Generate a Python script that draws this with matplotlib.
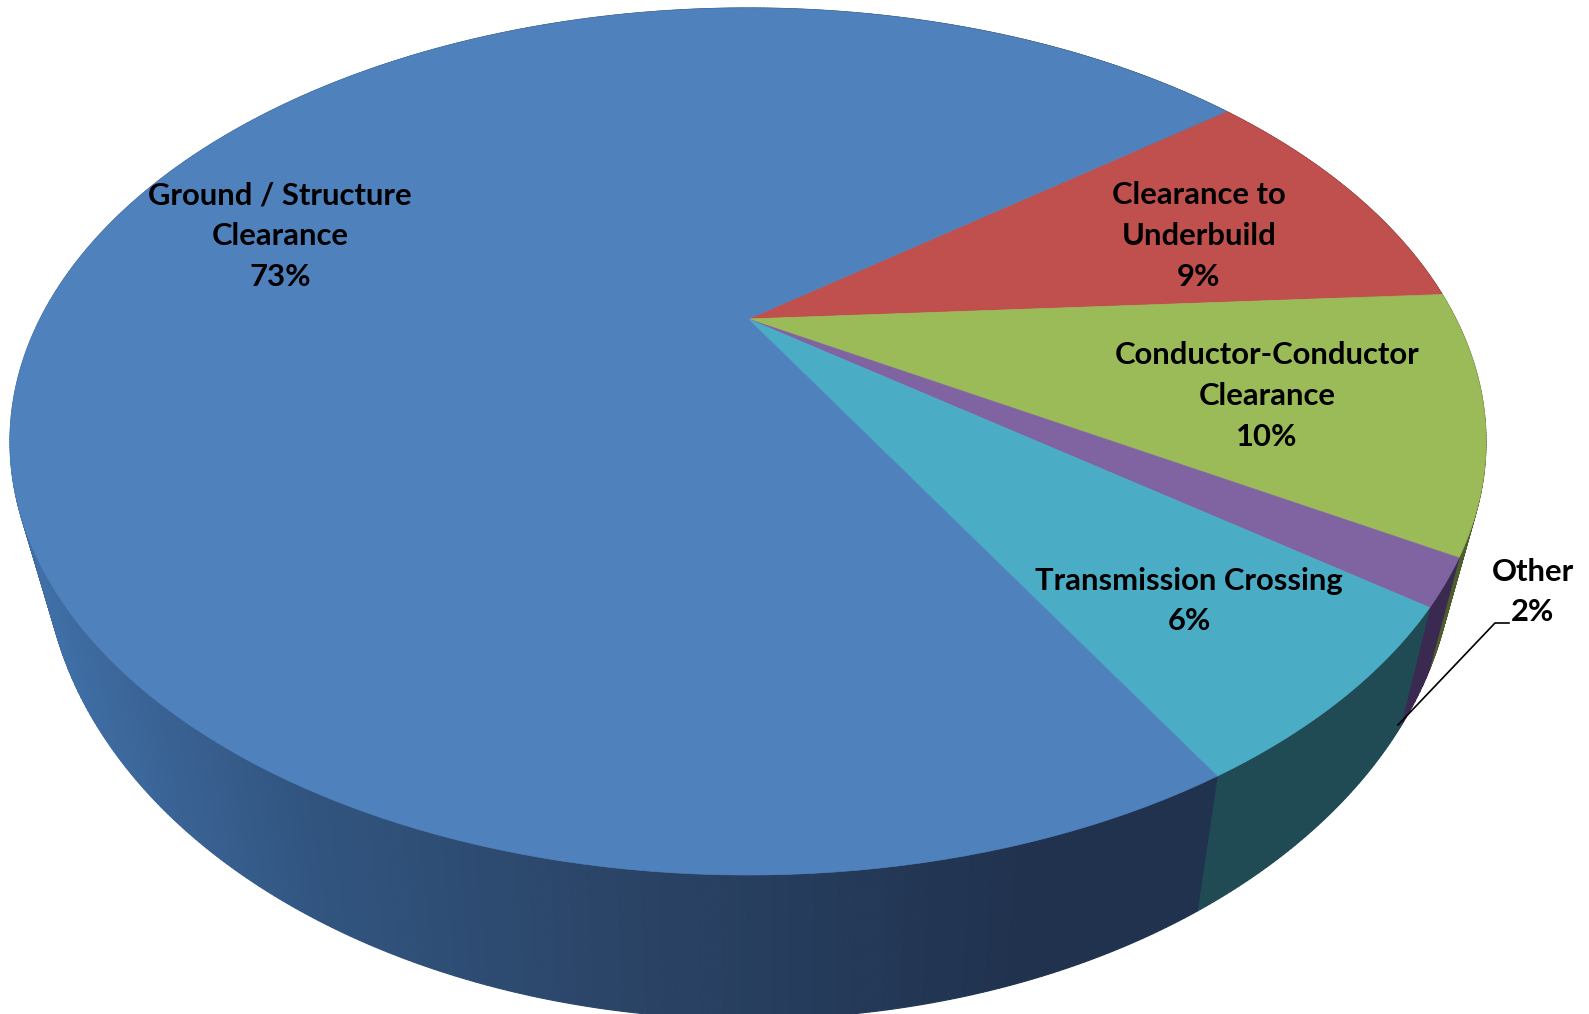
import numpy as np
import matplotlib
matplotlib.use("Agg")
import matplotlib.pyplot as plt
from matplotlib.patches import Polygon

# slices, clockwise from the blue/red edge
names = ["Clearance to\nUnderbuild", "Conductor-Conductor\nClearance", "Other", "Transmission Crossing", "Ground / Structure\nClearance"]
# the labels show them rounded
values = [9.45, 9.55, 1.7, 6.4, 72.9]
top_colors = ["#C0504D", "#9BBB59", "#8064A2", "#4BACC6", "#4F81BD"]
side_colors = ["#5E2725", "#4D5D2C", "#3A2A52", "#204A54", None]
label_pos = [(1199, 236), (1267, 396), (1533, 592), (1189, 601), (280, 236)]

# blue wall shading, left to right
shade_x = [40, 150, 300, 600, 1030]
shade_rgb = [(0x3F, 0x6F, 0xA6), (0x3A, 0x63, 0x95), (0x31, 0x55, 0x80), (0x2B, 0x45, 0x68), (0x20, 0x32, 0x4E)]

start = 37.6   # angle of first slice edge on the flat disc
cx, cy, a, b = 748, 441.5, 738, 433.5   # top ellipse
apex_y = 319
lx, ly, la, lb = 749, 546, 705, 473     # bottom ellipse
p = (cy - apex_y) / b


def persp(t):
    # disc angle -> position on unit ellipse, with the centre pushed back
    x, y = np.cos(t), np.sin(t)
    return x * np.sqrt(1 - p**2) / (1 + p * y), (y + p) / (1 + p * y)


def top_xy(t):
    x, y = persp(t)
    return cx + a * x, cy - b * y


def low_xy(t):
    x, y = persp(t)
    return lx + la * x, ly - lb * y


def shade(x):
    return tuple(np.interp(x, shade_x, [c[k] for c in shade_rgb]) / 255 for k in range(3))


fig = plt.figure(figsize=(15.89, 10.14), dpi=100)
ax = fig.add_axes([0, 0, 1, 1])
ax.set_xlim(0, 1589)
ax.set_ylim(1014, 0)
ax.axis("off")

edges = np.radians(start - np.cumsum([0] + values) * 3.6)

# side wall first, the top covers what is behind it
for i in range(len(values)):
    n = max(3, int(values[i] * 10))
    ts = np.linspace(edges[i], edges[i + 1], n + 1)
    for t0, t1 in zip(ts[:-1], ts[1:]):
        xt, yt = top_xy(np.array([t0, t1]))
        xl, yl = low_xy(np.array([t1, t0]))
        col = side_colors[i]
        if col is None:
            col = shade(xt[0])
        ax.add_patch(Polygon(np.column_stack([np.r_[xt, xl], np.r_[yt, yl]]), closed=True,
                             facecolor=col, edgecolor=col, linewidth=0.8))

# top face
for i in range(len(values)):
    ts = np.linspace(edges[i], edges[i + 1], 200)
    x, y = top_xy(ts)
    ax.add_patch(Polygon(np.column_stack([np.r_[cx, x], np.r_[apex_y, y]]), closed=True,
                         facecolor=top_colors[i], edgecolor=top_colors[i], linewidth=0.5))

for name, v, pos in zip(names, values, label_pos):
    ax.text(pos[0], pos[1], f"{name}\n{v:.0f}%", ha="center", va="center", family="Lato",
            fontweight="bold", fontsize=22.3, color="black", linespacing=1.56, zorder=5)

# leader for Other
ax.plot([1398, 1495, 1509], [725, 623, 623], color="black", lw=1.2, zorder=5)

fig.savefig("out.png", dpi=100)
